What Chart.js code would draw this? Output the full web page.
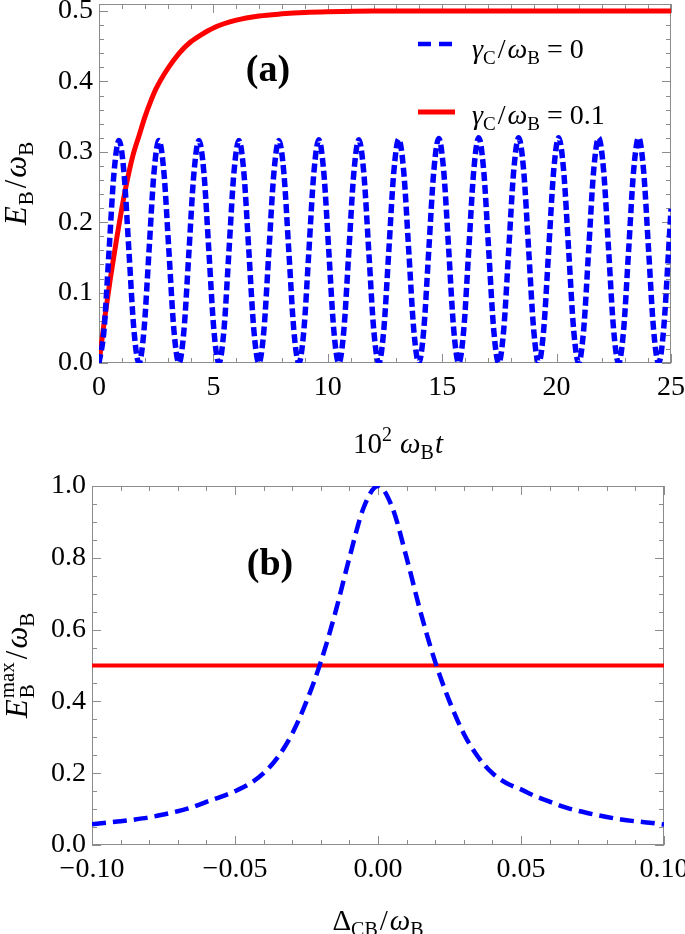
<!DOCTYPE html>
<html><head><meta charset="utf-8">
<script src="https://cdn.jsdelivr.net/npm/chart.js@4.4.1/dist/chart.umd.min.js"></script>
<style>
html,body{margin:0;padding:0;background:#fff;overflow:hidden;}
#wa{position:absolute;left:0;top:0;width:685px;height:470px;}
#wb{position:absolute;left:0;top:470px;width:685px;height:464px;}
.warm{position:absolute;left:-9999px;top:0;font-family:"Liberation Serif";font-size:20px;}
</style></head><body>
<div class="warm">0.1 <i>E ω γ</i> <b>(a)</b> Δ</div>
<div id="wa"><canvas id="ca"></canvas></div>
<div id="wb"><canvas id="cb"></canvas></div>
<script>
// ---------- Panel (a) data ----------
const tBlue = [
 0, 0.218, 0.437, 0.655, 0.874, 1.092, 1.310, 1.529,
 1.747, 1.965, 2.184, 2.402, 2.621, 2.839, 3.057, 3.276,
 3.494, 3.712, 3.931, 4.149, 4.368, 4.586, 4.804, 5.023,
 5.241, 5.459, 5.678, 5.896, 6.115, 6.333, 6.551, 6.770,
 6.988, 7.206, 7.425, 7.643, 7.862, 8.080, 8.298, 8.517,
 8.735, 8.953, 9.172, 9.390, 9.609, 9.827, 10.045, 10.264,
 10.482, 10.700, 10.919, 11.137, 11.356, 11.574, 11.792, 12.011,
 12.229, 12.447, 12.666, 12.884, 13.103, 13.321, 13.539, 13.758,
 13.976, 14.194, 14.413, 14.631, 14.850, 15.068, 15.286, 15.505,
 15.723, 15.941, 16.160, 16.378, 16.597, 16.815, 17.033, 17.252,
 17.470, 17.688, 17.907, 18.125, 18.344, 18.562, 18.780, 18.999,
 19.217, 19.435, 19.654, 19.872, 20.091, 20.309, 20.527, 20.746,
 20.964, 21.182, 21.401, 21.619, 21.838, 22.056, 22.274, 22.493,
 22.711, 22.929, 23.148, 23.366, 23.585, 23.803, 24.021, 24.240,
 24.458, 24.676, 24.895, 25.0
];
const eBlue = [
 0, 0.046, 0.158, 0.270, 0.316, 0.270, 0.158, 0.046,
 0, 0.046, 0.158, 0.270, 0.316, 0.270, 0.158, 0.046,
 0, 0.046, 0.158, 0.270, 0.316, 0.270, 0.158, 0.046,
 0, 0.046, 0.158, 0.270, 0.316, 0.270, 0.158, 0.046,
 0, 0.046, 0.158, 0.270, 0.316, 0.270, 0.158, 0.046,
 0, 0.046, 0.158, 0.270, 0.317, 0.270, 0.158, 0.046,
 0, 0.046, 0.158, 0.270, 0.317, 0.270, 0.158, 0.046,
 0, 0.047, 0.159, 0.271, 0.318, 0.271, 0.159, 0.047,
 0, 0.047, 0.160, 0.272, 0.319, 0.272, 0.160, 0.047,
 0, 0.047, 0.160, 0.273, 0.320, 0.273, 0.160, 0.047,
 0, 0.047, 0.160, 0.273, 0.320, 0.273, 0.160, 0.047,
 0, 0.047, 0.160, 0.273, 0.320, 0.273, 0.160, 0.047,
 0, 0.047, 0.160, 0.273, 0.320, 0.273, 0.160, 0.047,
 0, 0.047, 0.160, 0.273, 0.320, 0.273, 0.160, 0.047,
 0, 0.047, 0.160, 0.219
];
const tRed = [0, 0.25, 0.5, 0.75, 1.0, 1.25, 1.5, 1.75, 2.0, 2.25, 2.5, 3.0, 3.5, 4.0, 4.5, 5.0, 6.0, 7.0, 8.0, 9.0, 10, 12, 15, 20, 25];
const eRed = [0, 0.064, 0.121, 0.172, 0.220, 0.262, 0.297, 0.323, 0.349, 0.371, 0.390, 0.418, 0.440, 0.456, 0.467, 0.476, 0.487, 0.493, 0.496, 0.498, 0.499, 0.5, 0.5, 0.5, 0.5];
const xTicksA = [0, 5, 10, 15, 20, 25];
const yTicksA = [0, 0.1, 0.2, 0.3, 0.4, 0.5];
const gammaValues = ['0', '0.1'];

// ---------- Panel (b) data ----------
const detB = [-0.1, -0.095, -0.09, -0.085, -0.08, -0.075, -0.07, -0.065, -0.06, -0.055, -0.05, -0.045, -0.04, -0.035, -0.03, -0.025, -0.02, -0.015, -0.01, -0.005, 0,
              0.005, 0.01, 0.015, 0.02, 0.025, 0.03, 0.035, 0.04, 0.045, 0.05, 0.055, 0.06, 0.065, 0.07, 0.075, 0.08, 0.085, 0.09, 0.095, 0.1];
const eMaxBlue = [0.058, 0.062, 0.066, 0.071, 0.077, 0.085, 0.094, 0.105, 0.120, 0.134, 0.150, 0.170, 0.200, 0.245, 0.310, 0.400, 0.510, 0.645, 0.800, 0.940, 1.0,
                  0.940, 0.800, 0.645, 0.510, 0.400, 0.310, 0.245, 0.200, 0.172, 0.155, 0.136, 0.121, 0.106, 0.095, 0.086, 0.078, 0.071, 0.066, 0.062, 0.057];
const detRed = [-0.1, 0.1];
const eMaxRed = [0.5, 0.5];
const xTicksB = [-0.1, -0.05, 0, 0.05, 0.1];
const yTicksB = [0, 0.2, 0.4, 0.6, 0.8, 1.0];

// ---------- helpers ----------
const SERIF = "'Liberation Serif', 'DejaVu Serif', serif";
const BLUE = '#0000ff', RED = '#ff0000', FRAME = '#8c8c8c';
const pts = (xs, ys) => xs.map((x, i) => ({x: x, y: ys[i]}));

function partWidth(ctx, p) {
  if (p.stack) return Math.max(...p.stack.map(q => { ctx.font = q.f; return ctx.measureText(q.t).width; })) + (p.sp || 0);
  ctx.font = p.f; return ctx.measureText(p.t).width + (p.sp || 0);
}
function drawRich(ctx, parts, x, y, align) {
  let w = 0; for (const p of parts) w += partWidth(ctx, p);
  let cx = align === 'center' ? x - w / 2 : (align === 'right' ? x - w : x);
  ctx.textAlign = 'left'; ctx.textBaseline = 'alphabetic'; ctx.fillStyle = '#000';
  for (const p of parts) {
    if (p.stack) { for (const q of p.stack) { ctx.font = q.f; ctx.fillText(q.t, cx, y + (q.dy || 0)); } }
    else { ctx.font = p.f; ctx.fillText(p.t, cx, y + (p.dy || 0)); }
    cx += partWidth(ctx, p);
  }
}
const F = (s, style) => (style ? style + ' ' : '') + s + 'px ' + SERIF;

function framePlugin(cfg) {
  return {
    id: 'frameTicks',
    beforeDatasetsDraw(chart) {
      const {ctx, chartArea: a, scales: {x, y}} = chart;
      ctx.save();
      ctx.strokeStyle = FRAME; ctx.lineWidth = 1;
      ctx.beginPath();
      const seg = (x1, y1, x2, y2) => { ctx.moveTo(x1, y1); ctx.lineTo(x2, y2); };
      const xt = (v, len) => { const px = Math.round(x.getPixelForValue(v)) + 0.5; seg(px, a.bottom, px, a.bottom - len); seg(px, a.top, px, a.top + len); };
      const yt = (v, len) => { const py = Math.round(y.getPixelForValue(v)) + 0.5; seg(a.left, py, a.left + len, py); seg(a.right, py, a.right - len, py); };
      const nx = Math.round((x.max - x.min) / cfg.xMinor);
      for (let i = 0; i <= nx; i++) xt(x.min + i * cfg.xMinor, 5);
      const ny = Math.round((cfg.yTop - y.min) / cfg.yMinor);
      for (let i = 0; i <= ny; i++) yt(y.min + i * cfg.yMinor, 5);
      cfg.xMajor.forEach(v => xt(v, 9));
      cfg.yMajor.forEach(v => yt(v, 9));
      ctx.stroke();
      ctx.strokeRect(Math.round(a.left) + 0.5, Math.round(a.top) + 0.5, Math.round(a.width) - 1, Math.round(a.height) - 1);
      ctx.restore();
    }
  };
}

function baseOptions(o) {
  return {
    responsive: true, maintainAspectRatio: false, animation: false,
    layout: {padding: {top: o.padTop, right: o.padRight, left: 0, bottom: 0}},
    plugins: {legend: {display: false}, tooltip: {enabled: false}},
    elements: {point: {radius: 0}},
    scales: {
      x: {
        type: 'linear', min: o.xMin, max: o.xMax,
        grid: {display: false, drawTicks: false}, border: {display: false},
        ticks: {color: '#000', font: {family: SERIF, size: 28}, padding: 8, maxRotation: 0, autoSkip: false, callback: o.xFmt},
        afterBuildTicks: s => { s.ticks = o.xTicks.map(v => ({value: v})); },
        afterFit: s => { s.height = o.xH; s.paddingLeft = 0; s.paddingRight = 0; }
      },
      y: {
        type: 'linear', min: o.yMin, max: o.yMax,
        grid: {display: false, drawTicks: false}, border: {display: false},
        ticks: {color: '#000', font: {family: SERIF, size: 28}, padding: 6, autoSkip: false, callback: v => v.toFixed(1)},
        afterBuildTicks: s => { s.ticks = o.yTicks.map(v => ({value: v})); },
        afterFit: s => { s.width = o.yW; s.paddingTop = 0; s.paddingBottom = 0; }
      }
    }
  };
}

// ---------- Chart (a) ----------
const annotA = {
  id: 'annotA',
  afterDraw(chart) {
    const ctx = chart.ctx, a = chart.chartArea;
    ctx.save();
    ctx.save(); ctx.translate(26, (a.top + a.bottom) / 2); ctx.rotate(-Math.PI / 2);
    drawRich(ctx, [
      {t: 'E', f: F(31, 'italic'), sp: 1}, {t: 'B', f: F(21), dy: 7, sp: 3},
      {t: '/', f: F(31), sp: 2}, {t: 'ω', f: F(31, 'italic')}, {t: 'B', f: F(21), dy: 7}
    ], 0, 0, 'center');
    ctx.restore();
    drawRich(ctx, [
      {t: '10', f: F(29)}, {t: '2', f: F(20), dy: -12, sp: 8},
      {t: 'ω', f: F(29, 'italic')}, {t: 'B', f: F(20), dy: 6, sp: 1},
      {t: 't', f: F(29, 'italic')}
    ], (a.left + a.right) / 2 + 13, 453, 'center');
    ctx.font = F(38, 'bold'); ctx.fillStyle = '#000'; ctx.textAlign = 'center'; ctx.textBaseline = 'alphabetic';
    ctx.fillText('(a)', 268, 81);
    const items = [{c: BLUE, dash: [13, 8], w: 4.5, ly: 44, by: 58, v: gammaValues[0]},
                   {c: RED, dash: [], w: 5, ly: 112, by: 124, v: gammaValues[1]}];
    for (const it of items) {
      ctx.save(); ctx.strokeStyle = it.c; ctx.lineWidth = it.w; ctx.setLineDash(it.dash);
      ctx.beginPath(); ctx.moveTo(418, it.ly); ctx.lineTo(455, it.ly); ctx.stroke(); ctx.restore();
      drawRich(ctx, [
        {t: 'γ', f: F(28, 'italic')}, {t: 'C', f: F(19), dy: 6, sp: 2},
        {t: '/', f: F(28), sp: 2}, {t: 'ω', f: F(28, 'italic')}, {t: 'B', f: F(19), dy: 6},
        {t: ' = ' + it.v, f: F(28)}
      ], 472, it.by, 'left');
    }
    ctx.restore();
  }
};

// ---------- Chart (b) ----------
const annotB = {
  id: 'annotB',
  afterDraw(chart) {
    const ctx = chart.ctx, a = chart.chartArea;
    ctx.save();
    ctx.save(); ctx.translate(27, (a.top + a.bottom) / 2); ctx.rotate(-Math.PI / 2);
    drawRich(ctx, [
      {t: 'E', f: F(31, 'italic'), sp: 1},
      {stack: [{t: 'max', f: F(21), dy: -13}, {t: 'B', f: F(21), dy: 7}], sp: 3},
      {t: '/', f: F(31), sp: 2}, {t: 'ω', f: F(31, 'italic')}, {t: 'B', f: F(21), dy: 7}
    ], 0, 0, 'center');
    ctx.restore();
    drawRich(ctx, [
      {t: 'Δ', f: F(29)}, {t: 'CB', f: F(20), dy: 6, sp: 2},
      {t: '/', f: F(29), sp: 2}, {t: 'ω', f: F(29, 'italic')}, {t: 'B', f: F(20), dy: 6}
    ], (a.left + a.right) / 2, 460, 'center');
    ctx.font = F(38, 'bold'); ctx.fillStyle = '#000'; ctx.textAlign = 'center'; ctx.textBaseline = 'alphabetic';
    ctx.fillText('(b)', 270, 105);
    ctx.restore();
  }
};

function build() {
  new Chart(document.getElementById('ca'), {
    type: 'line',
    data: {datasets: [
      {label: 'γC/ωB = 0', data: pts(tBlue, eBlue), borderColor: BLUE, borderWidth: 5.5, borderDash: [9, 4], cubicInterpolationMode: 'monotone', fill: false},
      {label: 'γC/ωB = 0.1', data: pts(tRed, eRed), borderColor: RED, borderWidth: 5, cubicInterpolationMode: 'monotone', fill: false}
    ]},
    options: baseOptions({padTop: 4, padRight: 14, xMin: 0, xMax: 25, yMin: 0, yMax: 0.51, xTicks: xTicksA, yTicks: yTicksA,
      xH: 107, yW: 99, xFmt: v => String(v)}),
    plugins: [framePlugin({xMinor: 1, yMinor: 0.02, yTop: 0.5, xMajor: xTicksA, yMajor: yTicksA}), annotA]
  });
  new Chart(document.getElementById('cb'), {
    type: 'line',
    data: {datasets: [
      {label: 'γC/ωB = 0', data: pts(detB, eMaxBlue), borderColor: BLUE, borderWidth: 4.5, borderDash: [14, 7], cubicInterpolationMode: 'monotone', fill: false},
      {label: 'γC/ωB = 0.1', data: pts(detRed, eMaxRed), borderColor: RED, borderWidth: 4, fill: false}
    ]},
    options: baseOptions({padTop: 16, padRight: 21, xMin: -0.1, xMax: 0.1, yMin: 0, yMax: 1.0, xTicks: xTicksB, yTicks: yTicksB,
      xH: 89, yW: 92, xFmt: v => v.toFixed(2).replace('-', '\u2212')}),
    plugins: [framePlugin({xMinor: 0.01, yMinor: 0.05, yTop: 1.0, xMajor: xTicksB, yMajor: yTicksB}), annotB]
  });
}
const fontLoads = ['28px', 'italic 28px', 'bold 38px'].map(s => document.fonts.load(s + " 'Liberation Serif'", '0.1Eωγ(a)Δ').catch(() => null));
Promise.all(fontLoads).then(build, build);
</script>
</body></html>
